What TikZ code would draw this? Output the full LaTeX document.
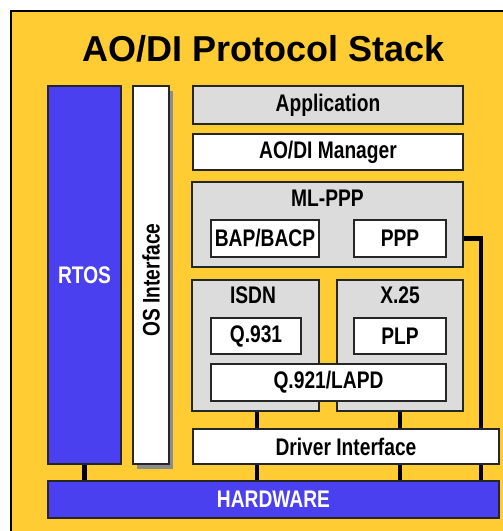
\documentclass[tikz,border=0pt]{standalone}
\usepackage{fontspec}
\setmainfont{Liberation Sans}
\newfontfamily\narrowsf[FakeStretch=0.8]{Liberation Sans}
\usetikzlibrary{backgrounds, shadows, calc}
\definecolor{stackyellow}{HTML}{FFCC33}
\definecolor{hwblue}{HTML}{4A40F0}
\definecolor{layergray}{HTML}{DCDCDC}

\begin{document}
\begin{tikzpicture}[x=1pt, y=-1pt,
    layer/.style={draw=black!85, line width=1.5pt, inner sep=0pt,
      font=\narrowsf\fontsize{24}{25}\selectfont\bfseries},
    graylayer/.style={layer, fill=layergray},
    whitelayer/.style={layer, fill=white},
    bluelayer/.style={layer, fill=hwblue, text=white},
    sz/.style 2 args={minimum width=#1pt, minimum height=#2pt},
    lbl/.style={inner sep=0pt, font=\narrowsf\fontsize{24}{25}\selectfont\bfseries},
    wire/.style={line width=4.5pt, black}]
  \useasboundingbox (0,0) rectangle (503,531);
  % frame
  \begin{scope}[on background layer]
    \draw[line width=2.5pt, fill=stackyellow] (11,11) rectangle (516,546);
  \end{scope}
  \node[font=\fontsize{36}{40}\selectfont\bfseries] (title) at (264,48.5) {AO/DI Protocol Stack};
  % left columns
  \node[bluelayer, sz={73}{378}] (rtos) at (84.5,275) {RTOS};
  \node[whitelayer, sz={36}{378},
    drop shadow={shadow xshift=4pt, shadow yshift=-5pt, fill=black!45, opacity=1}]
    (osif) at (151,275) {};
  \node[lbl, rotate=90] (osiflbl) at (151,280) {OS Interface};
  % protocol layers
  \node[graylayer, sz={270}{38}] (app) at (328,105) {Application};
  \node[whitelayer, sz={270}{36}] (mgr) at (328,152) {AO/DI Manager};
  \node[graylayer, sz={271}{85}] (mlppp) at (327.5,224.5) {};
  \node[lbl] (mlppplbl) at (327.5,198) {ML-PPP};
  \node[whitelayer, sz={108}{37}] (bap) at (265,238.5) {BAP/BACP};
  \node[whitelayer, sz={92}{37}] (ppp) at (400,238.5) {PPP};
  \node[graylayer, sz={127}{131}] (isdn) at (255.5,345.5) {};
  \node[graylayer, sz={126}{131}] (x25) at (400,345.5) {};
  \node[lbl] (isdnlbl) at (253,295) {ISDN};
  \node[lbl] (x25lbl) at (400,295) {X.25};
  \node[whitelayer, sz={90}{36}] (q931) at (256,336) {Q.931};
  \node[whitelayer, sz={92}{36}] (plp) at (400,336) {PLP};
  \node[whitelayer, sz={235}{37}] (lapd) at (328.5,382.5) {Q.921/LAPD};
  \node[whitelayer, sz={306}{35}] (drv) at (346,446.5) {Driver Interface};
  \node[bluelayer, sz={451}{37}] (hw) at (273.5,499.5) {HARDWARE};
  % connectors
  \coordinate (tap) at (481,238.5);
  \begin{scope}[on background layer]
    \draw[wire] (rtos.south) -- (rtos.south |- hw.north);
    \draw[wire] ([xshift=1.5pt]isdn.south) -- ([xshift=1.5pt]isdn.south |- hw.north);
    \draw[wire] (x25.south) -- (x25.south |- hw.north);
    \draw[wire] (ppp.east) -- (tap) -- (tap |- hw.north);
  \end{scope}
\end{tikzpicture}
\end{document}
